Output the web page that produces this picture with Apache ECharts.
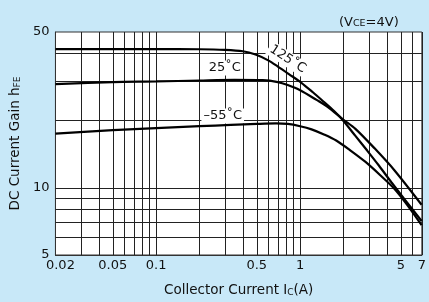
<!DOCTYPE html>
<html lang="en">
<head>
  <meta charset="UTF-8" />
  <title>DC Current Gain vs Collector Current</title>
  <script src="https://cdn.jsdelivr.net/npm/echarts@6/dist/echarts.min.js"></script>
  <style>
    body { margin: 0; background: #c8e8f8; }
    #chart { width: 429px; height: 302px; }
  </style>
</head>
<body>
  <div id="chart"></div>
  <script>
    // collector current (A) and hFE readings for each temperature
    const ic125 = [0.02, 0.1, 0.2, 0.3, 0.4, 0.49, 0.6, 0.7, 0.84, 1.02, 1.22, 1.45, 1.72, 1.98, 2.42, 2.92, 3.52, 4.3, 6.97];
    const hfe125 = [41.9, 41.9, 41.85, 41.6, 41.0, 39.6, 37.3, 35.0, 32.3, 29.6, 26.9, 24.4, 22.1, 20.1, 17.1, 14.7, 12.6, 10.6, 7.1];
    const ic25 = [0.02, 0.05, 0.1, 0.2, 0.35, 0.55, 0.7, 0.82, 1.0, 1.3, 1.55, 1.98, 2.42, 3.3, 4.51, 6.97];
    const hfe25 = [29.2, 29.8, 30.0, 30.3, 30.5, 30.4, 29.8, 28.9, 27.4, 24.8, 23.1, 20.3, 18.4, 15.0, 12.0, 8.4];
    const icM55 = [0.02, 0.05, 0.1, 0.2, 0.33, 0.5, 0.68, 0.82, 1.0, 1.2, 1.45, 1.78, 2.24, 2.83, 3.57, 4.51, 5.6, 6.97];
    const hfeM55 = [17.5, 18.15, 18.55, 18.9, 19.15, 19.35, 19.45, 19.35, 18.9, 18.3, 17.4, 16.3, 14.7, 13.1, 11.45, 9.9, 8.3, 6.8];

    const curveNames = ['125˚C', '25˚C', '–55˚C'];
    // where each curve's name sits (Ic, hFE)
    const nameAt = [[0.82, 37.8], [0.30, 34.5], [0.29, 21.0]];
    const nameRotate = [-33, 0, 0];

    const xGrid = [0.03, 0.04, 0.05, 0.06, 0.07, 0.08, 0.09, 0.1, 0.2, 0.3, 0.4, 0.5, 0.6, 0.7, 0.8, 0.9, 1, 2, 3, 4, 5, 6, 7];
    const yGrid = [6, 7, 8, 9, 10, 20, 30, 40];
    const xLabels = [0.02, 0.05, 0.1, 0.5, 1, 5, 7];
    const yLabels = [5, 10, 50];

    const zip = (xs, ys) => xs.map((x, i) => [x, ys[i]]);
    const font = 'DejaVu Sans';

    const chart = echarts.init(document.getElementById('chart'));

    const curve = (data, idx) => ({
      type: 'line',
      data: data,
      smooth: 0.3,
      symbol: 'none',
      lineStyle: { color: '#000', width: 2.2 },
      z: 5,
      markPoint: {
        symbol: 'circle',
        symbolSize: 0,
        silent: true,
        data: [{ coord: nameAt[idx] }],
        label: {
          show: true,
          position: 'inside',
          formatter: curveNames[idx],
          rotate: nameRotate[idx],
          fontFamily: font,
          fontSize: 13,
          color: '#111',
          backgroundColor: '#fff',
          padding: [1, 2]
        }
      }
    });

    const gridSeries = {
      type: 'line',
      data: [],
      silent: true,
      z: 1,
      markLine: {
        silent: true,
        symbol: 'none',
        animation: false,
        label: { show: false },
        lineStyle: { color: '#222', width: 1, type: 'solid' },
        data: xGrid.map(v => ({ xAxis: v })).concat(yGrid.map(v => ({ yAxis: v })))
      }
    };

    const tickText = v => String(Number(v.toPrecision(3)));

    chart.setOption({
      backgroundColor: '#c8e8f8',
      animation: false,
      title: {
        text: '(V{s|CE}=4V)',
        left: 334,
        top: 11,
        textStyle: {
          fontFamily: font, fontSize: 13, fontWeight: 'normal', color: '#111',
          rich: { s: { fontFamily: font, fontSize: 9.5, color: '#111', verticalAlign: 'bottom' } }
        }
      },
      grid: {
        left: 51, right: 0, top: 32, bottom: 44,
        show: true, backgroundColor: '#fff', borderColor: '#333', borderWidth: 1
      },
      xAxis: {
        type: 'log',
        min: 0.02,
        max: 7,
        name: 'Collector Current I{s|C}(A)',
        nameLocation: 'middle',
        nameGap: 28,
        nameTextStyle: {
          fontFamily: font, fontSize: 13.5, color: '#111',
          rich: { s: { fontFamily: font, fontSize: 9, color: '#111', verticalAlign: 'bottom' } }
        },
        axisLine: { lineStyle: { color: '#333' } },
        axisTick: { show: false },
        splitLine: { show: false },
        axisLabel: {
          customValues: xLabels,
          fontFamily: font, fontSize: 13, color: '#111', margin: 4,
          formatter: v => (Math.abs(v - 0.02) < 1e-6 ? '{f|0.02}' : tickText(v)),
          rich: { f: { fontFamily: font, fontSize: 13, color: '#111', padding: [0, 0, 0, 10] } }
        }
      },
      yAxis: {
        type: 'log',
        min: 5,
        max: 50,
        name: 'DC Current Gain h{s|FE}',
        nameLocation: 'middle',
        nameGap: 31,
        nameTextStyle: {
          fontFamily: font, fontSize: 13.5, color: '#111',
          rich: { s: { fontFamily: font, fontSize: 9, color: '#111', verticalAlign: 'bottom' } }
        },
        axisLine: { lineStyle: { color: '#333' } },
        axisTick: { show: false },
        splitLine: { show: false },
        axisLabel: {
          customValues: yLabels,
          fontFamily: font, fontSize: 13, color: '#111', margin: 6,
          formatter: v => tickText(v)
        }
      },
      series: [
        gridSeries,
        curve(zip(ic125, hfe125), 0),
        curve(zip(ic25, hfe25), 1),
        curve(zip(icM55, hfeM55), 2)
      ]
    });
  </script>
</body>
</html>
